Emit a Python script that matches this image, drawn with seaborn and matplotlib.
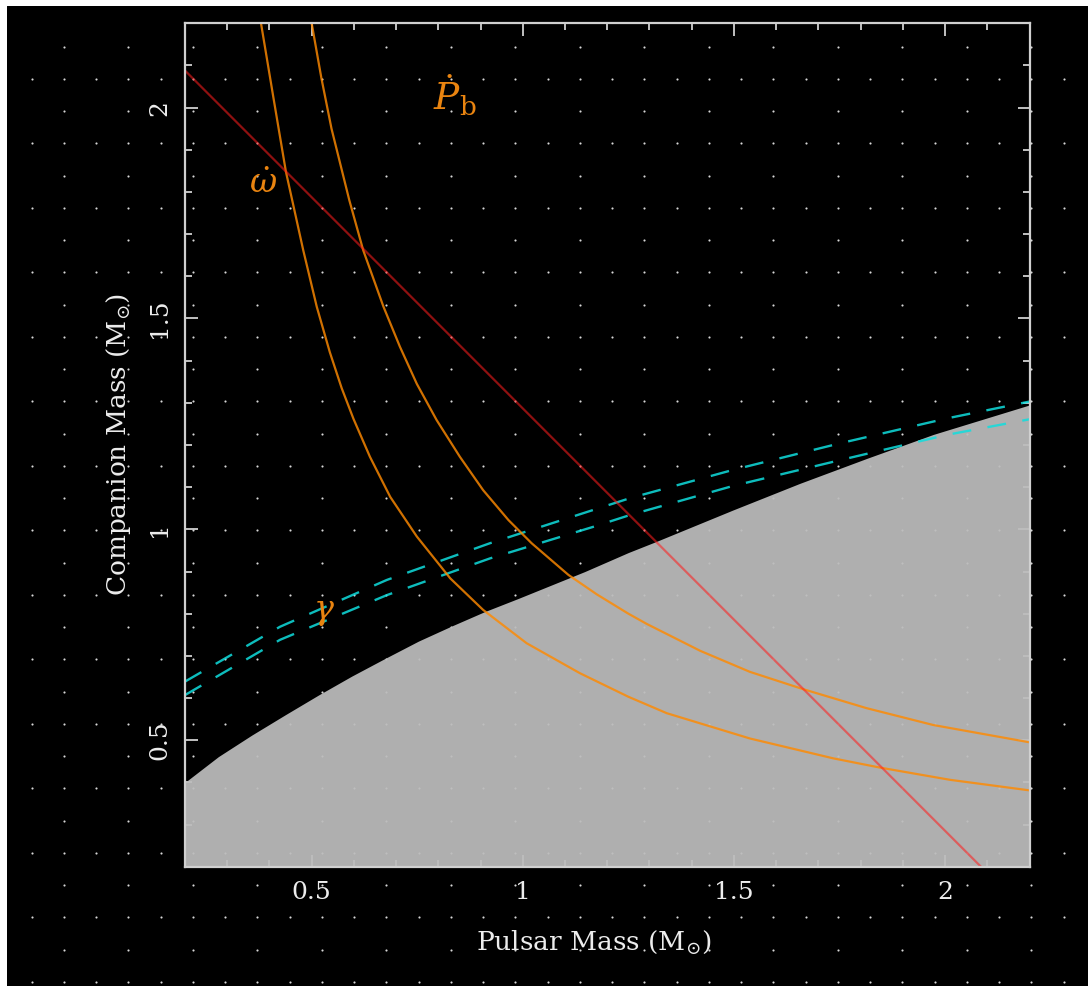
import numpy as np
import matplotlib
matplotlib.use("Agg")
import matplotlib.pyplot as plt
from matplotlib.ticker import MultipleLocator
import seaborn as sns

# values (pulsar mass m1, companion mass m2, in M_sun)
omdot_m1 = [0.380, 0.409, 0.439, 0.480, 0.512, 0.543, 0.571, 0.599, 0.638, 0.686,
            0.749, 0.828, 0.906, 1.009, 1.135, 1.250, 1.341, 1.538, 1.735, 1.846,
            2.012, 2.2]
omdot_m2 = [2.2, 2.026, 1.848, 1.662, 1.528, 1.420, 1.335, 1.262, 1.172, 1.077,
            0.983, 0.884, 0.809, 0.730, 0.659, 0.603, 0.564, 0.504, 0.457, 0.435,
            0.406, 0.381]

pbdot_m1 = [0.500, 0.523, 0.547, 0.589, 0.622, 0.670, 0.709, 0.749, 0.796, 0.851,
            0.906, 0.966, 1.021, 1.108, 1.175, 1.250, 1.293, 1.420, 1.538, 1.664,
            1.814, 1.972, 2.2]
pbdot_m2 = [2.2, 2.070, 1.950, 1.781, 1.662, 1.528, 1.433, 1.345, 1.259, 1.172,
            1.093, 1.022, 0.967, 0.892, 0.846, 0.800, 0.776, 0.712, 0.662, 0.621,
            0.576, 0.536, 0.495]

mass_sum_m1 = [0.2, 2.09]
mass_sum_m2 = [2.088, 0.195]

gamma_m1 = [0.2, 0.425, 0.678, 0.922, 1.167, 1.254, 1.498, 1.751, 2.004, 2.2]
gamma_hi = [0.639, 0.769, 0.880, 0.967, 1.046, 1.074, 1.141, 1.204, 1.263, 1.303]
gamma_lo = [0.607, 0.738, 0.844, 0.931, 1.006, 1.034, 1.103, 1.164, 1.224, 1.261]

limit_m1 = [0.2, 0.279, 0.358, 0.437, 0.516, 0.595, 0.674, 0.753, 0.832, 0.910,
            0.989, 1.068, 1.147, 1.250, 1.313, 1.498, 1.656, 1.814, 1.972, 2.2]
limit_m2 = [0.400, 0.461, 0.512, 0.560, 0.607, 0.652, 0.694, 0.735, 0.771, 0.805,
            0.836, 0.868, 0.900, 0.945, 0.970, 1.046, 1.109, 1.168, 1.225, 1.295]

tick_vals = [0.5, 1, 1.5, 2]
tick_labels = ["0.5", "1", "1.5", "2"]

sns.set_style("ticks")
plt.rcParams["font.family"] = ["DejaVu Serif"]
plt.rcParams["mathtext.fontset"] = "dejavuserif"

W, H = 1088, 986
fig = plt.figure(figsize=(W / 100, H / 100), dpi=100, facecolor="white")

# black page with the dotted raster behind everything
bg = fig.add_axes([7 / W, 0, 1 - 7 / W, 1 - 6 / H])
bg.set_facecolor("black")
bg.set_xlim(7, W)
bg.set_ylim(H, 6)
bg.axis("off")
bg.add_patch(plt.Rectangle((7, 6), W, H, color="black", zorder=0))
xs = 31.7 + 32.25 * np.arange(33)
ys = 46.7 + 32.25 * np.arange(30)
px, py = [], []
for j, yy in enumerate(ys):
    for i, xx in enumerate(xs):
        if j % 2 == 1 or i % 2 == 1:
            px.append(xx)
            py.append(yy)
bg.scatter(px, py, s=2.4, color="#d8d8d8", linewidths=0, zorder=1)

ax = fig.add_axes([185 / W, 1 - 866.7 / H, 844.5 / W, 843.4 / H])
ax.patch.set_alpha(0)

ax.fill_between(limit_m1, 0, limit_m2, color="#bdbdbd", alpha=0.93, linewidth=0, zorder=1)

for g in (gamma_hi, gamma_lo):
    sns.lineplot(x=gamma_m1, y=g, ax=ax, color="#10dede", alpha=0.85, lw=1.7,
                 linestyle=(0, (8, 7)), sort=False, estimator=None, zorder=3)

for cx, cy in ((omdot_m1, omdot_m2), (pbdot_m1, pbdot_m2)):
    sns.lineplot(x=cx, y=cy, ax=ax, color="#ff8a00", alpha=0.82, lw=1.6,
                 sort=False, estimator=None, zorder=4)

sns.lineplot(x=mass_sum_m1, y=mass_sum_m2, ax=ax, color="#ff1e1e", alpha=0.56, lw=1.6,
             sort=False, estimator=None, zorder=5)

orange = "#e98410"
ax.text(0.385, 1.82, r"$\dot{\omega}$", color=orange, fontsize=24, ha="center", va="center")
ax.text(0.84, 2.03, r"$\dot{P}_{\mathrm{b}}$", color=orange, fontsize=27, ha="center", va="center")
ax.text(0.528, 0.805, r"$\gamma$", color=orange, fontsize=24, ha="center", va="center")

ax.set_xlim(0.2, 2.2)
ax.set_ylim(0.2, 2.2)
ax.set_xticks(tick_vals, tick_labels)
ax.set_yticks(tick_vals, tick_labels)
ax.xaxis.set_minor_locator(MultipleLocator(0.1))
ax.yaxis.set_minor_locator(MultipleLocator(0.1))
ax.tick_params(which="both", direction="in", top=True, right=True,
               colors="#d0d0d0", labelcolor="#ececec", labelsize=18, width=1.3)
ax.tick_params(which="major", length=9)
ax.tick_params(which="minor", length=5)
ax.tick_params(axis="x", pad=10)
ax.tick_params(axis="y", pad=10, labelrotation=90)
for lab in ax.get_yticklabels():
    lab.set_va("center")
for sp in ax.spines.values():
    sp.set_color("#d0d0d0")
    sp.set_linewidth(1.6)
    sp.set_zorder(6)

ax.set_xlabel(r"Pulsar Mass (M$_{\odot}$)", color="#ececec", fontsize=19)
ax.set_ylabel(r"Companion Mass (M$_{\odot}$)", color="#ececec", fontsize=19)
ax.xaxis.set_label_coords(0.484, -0.073)
ax.yaxis.set_label_coords(-0.062, 0.5)

fig.savefig("out.png", dpi=100, facecolor="white")
